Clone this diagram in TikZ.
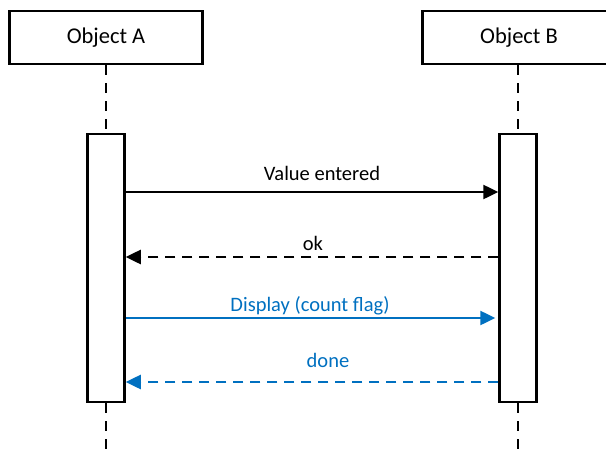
\documentclass[tikz,border=0pt]{standalone}
\usepackage{fontspec}
\setmainfont{Carlito}
\usepackage{tikz}
\definecolor{msgblue}{RGB}{0,112,192}
\usetikzlibrary{arrows.meta}

\begin{document}
\begin{tikzpicture}[x=1pt,y=-1pt,
        objbox/.style={draw, line width=2.5pt, minimum width=193pt, minimum height=53pt,
            font=\fontsize{22.5}{26}\selectfont},
        actbox/.style={draw, line width=2.5pt, fill=white, minimum width=37pt, minimum height=268pt, inner sep=0pt},
        lifeline/.style={line width=2.5pt, dash pattern=on 10pt off 8pt},
        msgtext/.style={font=\fontsize{20.5}{24}\selectfont, inner sep=0pt},
        call/.style={line width=2.5pt, -{Triangle[length=15pt,width=14pt]}},
        reply/.style={call, dash pattern=on 10pt off 7pt}]
        \useasboundingbox (0,0) rectangle (606,450);
        \clip (0,0) rectangle (606,450);

        \node[objbox] (objA) at (106,37.5) {Object A};
        \node[objbox] (objB) at (519,37.5) {Object B};
        \node[actbox] (actA) at (106,268) {};
        \node[actbox] (actB) at (518,268) {};
        \coordinate (endA) at (106,452);
        \coordinate (endB) at (518,452);

        \draw[lifeline] (objA.south) -- (actA.north);
        \draw[lifeline] (objB.south -| actB.north) -- (actB.north);
        \draw[lifeline] (actA.south) -- (endA);
        \draw[lifeline] (actB.south) -- (endB);

        \draw[call] (actA.east |- 0,192) -- (actB.west |- 0,192);
        \node[msgtext] (valEntered) at (322,173) {Value entered};
        \draw[reply] (actB.west |- 0,257) -- (actA.east |- 0,257);
        \node[msgtext] (okText) at (313,243) {ok};

        \draw[call, msgblue] (actA.east |- 0,318) -- ([xshift=-3pt]actB.west |- 0,318);
        \node[msgtext, text=msgblue] (dispText) at (310,306) {Display (count flag)};
        \draw[reply, msgblue] (actB.west |- 0,382) -- (actA.east |- 0,382);
        \node[msgtext, text=msgblue] (doneText) at (328,360) {done};
    \end{tikzpicture}
\end{document}
